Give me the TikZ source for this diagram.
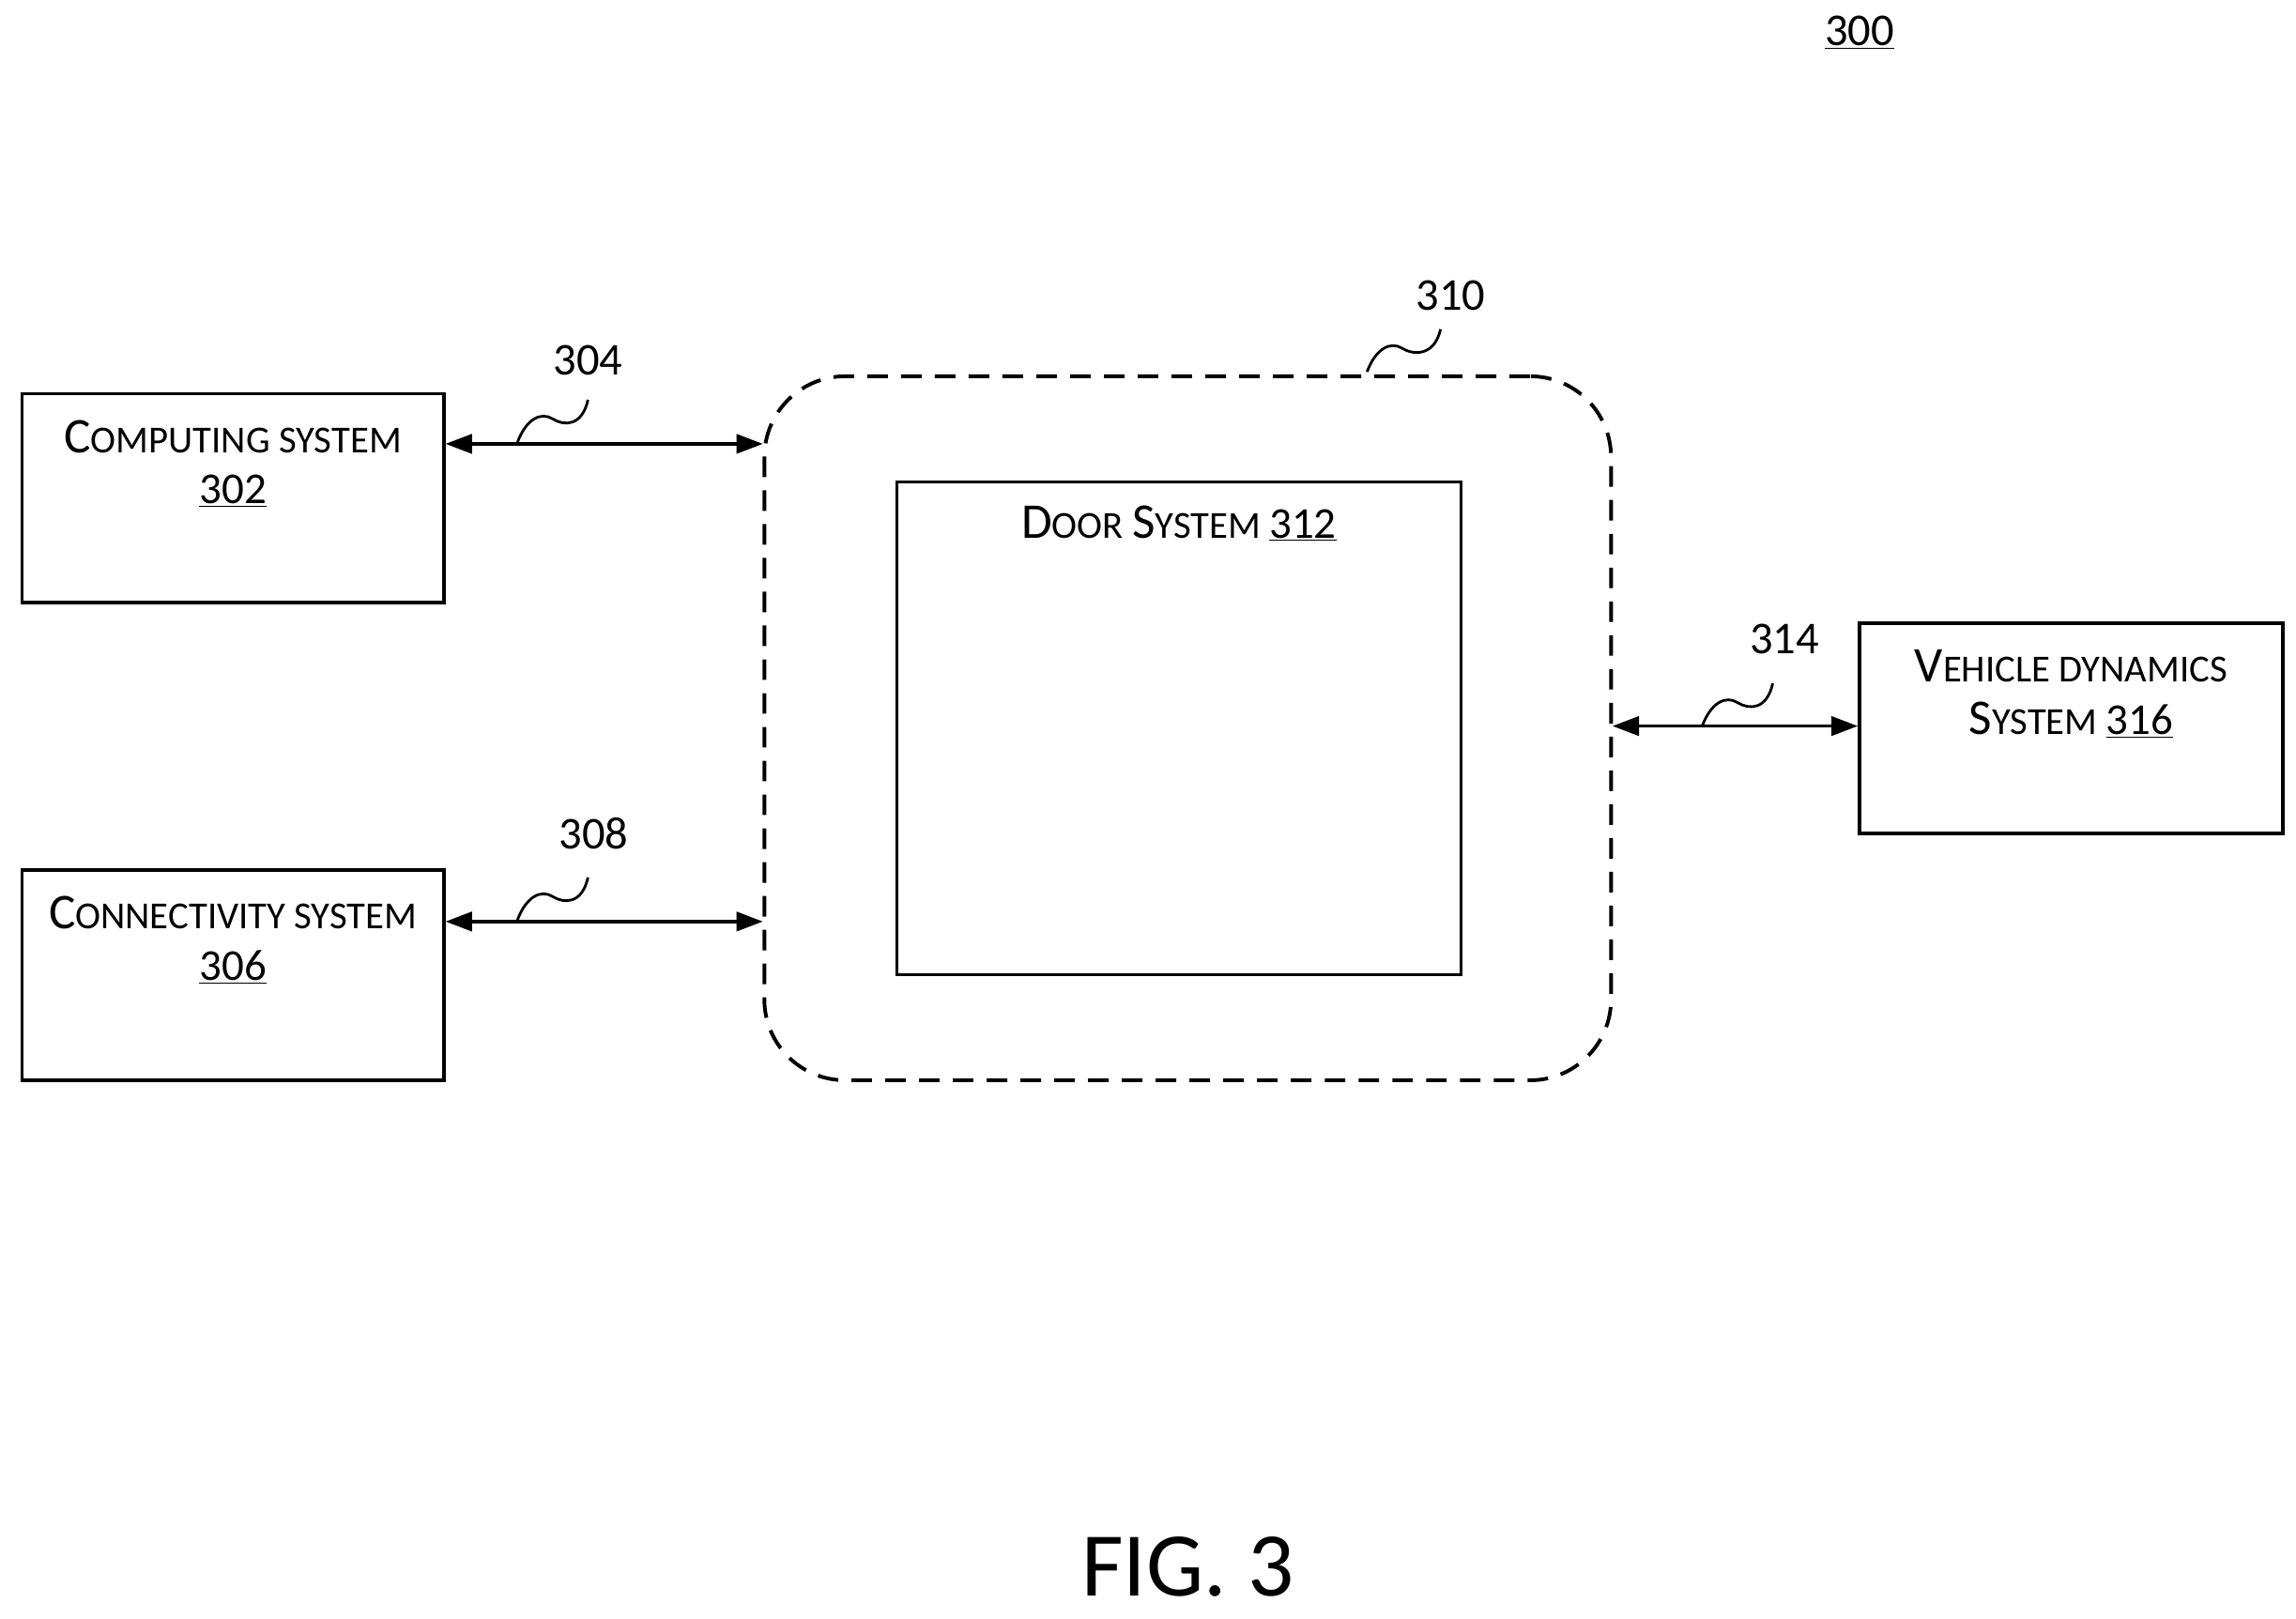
\documentclass[tikz,border=0pt]{standalone}
\usepackage{fontspec}
\setmainfont{Carlito}
\usetikzlibrary{arrows.meta}
\newcommand{\bigc}[1]{{\fontsize{34}{36}\selectfont #1}}
\newcommand{\smc}[1]{{\fontsize{26}{30}\selectfont #1}}
\begin{document}
\begin{tikzpicture}[x=1pt,y=-1pt,
  box/.style={draw,line width=2.2pt,inner sep=0pt},
  arr/.style={line width=2.2pt,{Triangle[length=18pt,width=13pt]}-{Triangle[length=18pt,width=13pt]}},
  sq/.style={line width=1.8pt},
  lab/.style={font=\fontsize{31}{33}\selectfont}]
\useasboundingbox (0,0) rectangle (1562,1101);
\node[box,minimum width=287pt,minimum height=142pt] (cs) at (158.5,339) {};
\node[box,minimum width=287pt,minimum height=143pt] (cn) at (158.5,663.5) {};
\node[box,minimum width=288pt,minimum height=143pt] (vd) at (1409,495.5) {};
\node[box,minimum width=384pt,minimum height=335pt] (ds) at (802,495.5) {};
\node[draw,line width=2.5pt,inner sep=0pt,dash pattern=on 14pt off 9pt,rounded corners=55pt,minimum width=576pt,minimum height=479pt] (dd) at (808,495.5) {};
\node at (158.5,297) {\bigc{C}\smc{OMPUTING SYSTEM}};
\node at (158.5,334) {\fontsize{30}{32}\selectfont\underline{302}};
\node at (158.5,621) {\bigc{C}\smc{ONNECTIVITY SYSTEM}};
\node at (158.5,658) {\fontsize{30}{32}\selectfont\underline{306}};
\node at (802,356) {\bigc{D}\smc{OOR}\smc{\ }\bigc{S}\smc{YSTEM}\smc{\ }{\fontsize{30}{32}\selectfont\underline{312}}};
\node at (1409,453) {\bigc{V}\smc{EHICLE DYNAMICS}};
\node at (1409,490) {\bigc{S}\smc{YSTEM}\smc{\ }{\fontsize{30}{32}\selectfont\underline{316}}};
\coordinate (a1) at (519,302); \coordinate (a2) at (519,627); \coordinate (a3) at (1097,494);
\draw[arr] (cs.east |- a1) -- (a1);
\draw[arr] (cn.east |- a2) -- (a2);
\draw[arr] (a3) -- (vd.west |- a3);
\node[lab] (l304) at (400,245) {304};
\node[lab] (l308) at (404,567) {308};
\node[lab] (l314) at (1214,435) {314};
\node[lab] (l310) at (987,201) {310};
\node[lab] (l300) at (1265,22) {\underline{300}};
\draw[sq] (352,301) .. controls (358,285) and (368,280) .. (376,285) .. controls (384,290) and (396,290) .. (400,272);
\draw[sq] (352,626) .. controls (358,610) and (368,605) .. (376,610) .. controls (384,615) and (396,615) .. (400,597);
\draw[sq] (1158,494) .. controls (1164,478) and (1174,473) .. (1182,478) .. controls (1190,483) and (1202,483) .. (1206,465);
\draw[sq] (930,253) .. controls (936,237) and (946,232) .. (954,237) .. controls (962,242) and (976,242) .. (980,224);
\node[font=\fontsize{62}{66}\selectfont] (fig) at (808,1066) {FIG. 3};
\end{tikzpicture}
\end{document}
